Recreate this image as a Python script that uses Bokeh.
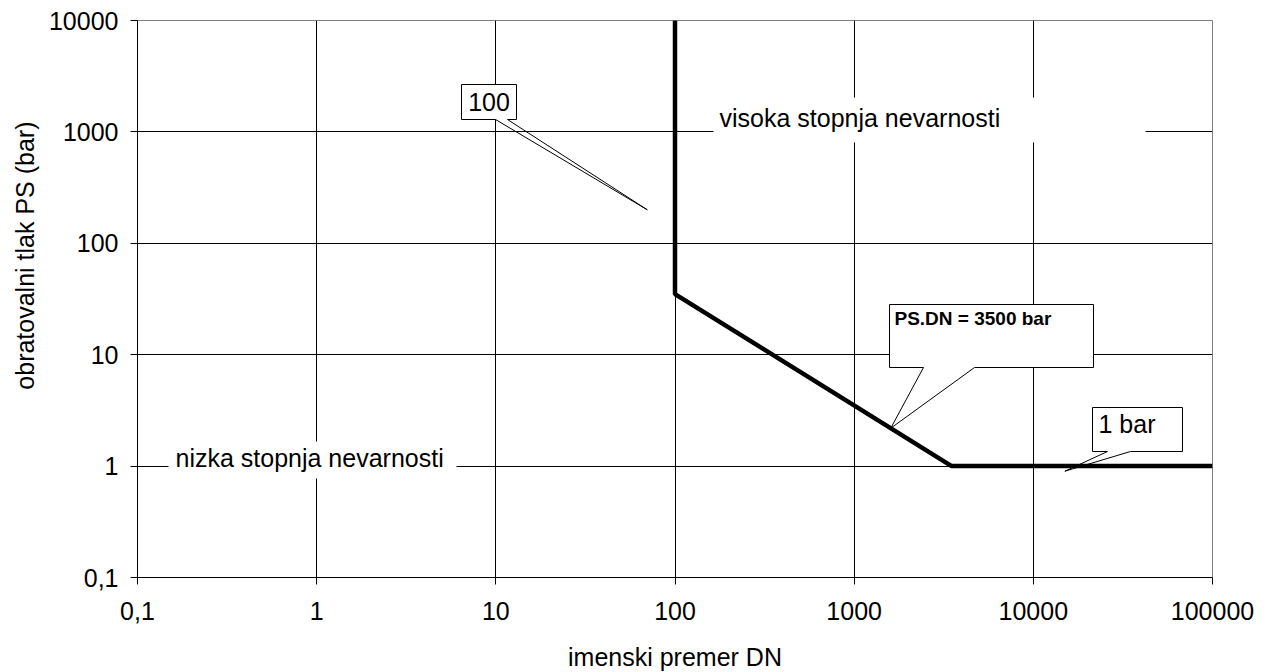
from bokeh.plotting import figure
from bokeh.models import FixedTicker, Title
from bokeh.embed import file_html
from bokeh.resources import INLINE
from bokeh.core.properties import value

# ---------------- data ----------------
dn = [100, 100, 3500, 100000]          # imenski premer DN
ps = [10000, 35, 1, 1]                 # obratovalni tlak PS (bar)

x_ticks = [0.1, 1, 10, 100, 1000, 10000, 100000]
x_tick_labels = ["0,1", "1", "10", "100", "1000", "10000", "100000"]
y_ticks = [0.1, 1, 10, 100, 1000, 10000]
y_tick_labels = ["0,1", "1", "10", "100", "1000", "10000"]

x_title = "imenski premer DN"
y_title = "obratovalni tlak PS (bar)"

zone_texts = ["visoka stopnja nevarnosti", "nizka stopnja nevarnosti"]

callout_texts = ["100", "PS.DN = 3500 bar", "1 bar"]
callout_tip_x = [70, 1600, 15000]
callout_tip_y = [200, 3500 / 1600, 0.9]

# ---------------- layout ----------------
FW, FH = 1075, 557
XLOG = (-1.0, 5.0)
YLOG = (-1.0, 4.0)
FONT = value("Liberation Sans")


def fx(px):
    return 10 ** (XLOG[0] + px / FW * (XLOG[1] - XLOG[0]))


def fy(py):
    return 10 ** (YLOG[1] - py / FH * (YLOG[1] - YLOG[0]))


p = figure(
    x_axis_type="log", y_axis_type="log",
    x_range=(10 ** XLOG[0], 10 ** XLOG[1]),
    y_range=(10 ** YLOG[0], 10 ** YLOG[1]),
    frame_width=FW, frame_height=FH,
    min_border_left=137, min_border_top=20, min_border_right=52, min_border_bottom=88,
    output_backend="svg", toolbar_location=None,
    background_fill_color="white", border_fill_color="white",
)
p.outline_line_color = "#808080"

for ax, ticks, labels in ((p.xaxis[0], x_ticks, x_tick_labels), (p.yaxis[0], y_ticks, y_tick_labels)):
    ax.ticker = FixedTicker(ticks=ticks)
    ax.major_label_overrides = {float(t): l for t, l in zip(ticks, labels)}
    ax.minor_tick_line_color = None
    ax.major_tick_out = 7
    ax.major_tick_in = 0
    ax.axis_line_color = "black"
    ax.major_tick_line_color = "black"
    ax.major_label_text_font = "Liberation Sans"
    ax.major_label_text_font_size = "25px"
    ax.major_label_text_color = "black"
    ax.axis_label_text_font = "Liberation Sans"
    ax.axis_label_text_font_size = "25px"
    ax.axis_label_text_font_style = "normal"
    ax.axis_label_text_color = "black"

p.xaxis.axis_label = x_title
p.xaxis.major_label_standoff = 17
p.xaxis.axis_label_standoff = 20
p.yaxis.major_label_standoff = 12

# y-axis title, placed above the frame centre like the original
p.add_layout(Title(text=y_title, align="right", offset=101, standoff=14,
                   text_font="Liberation Sans", text_font_size="25px",
                   text_font_style="normal", text_color="black"), "left")

p.xgrid.ticker = FixedTicker(ticks=x_ticks)
p.ygrid.ticker = FixedTicker(ticks=y_ticks)
p.grid.grid_line_color = "black"
p.grid.grid_line_width = 1

# baseline correction for glyph text (px per px of font size)
BL = 0.36

# zone labels (white boxes over grid)
zone_boxes = [(576, 77, 1008, 122), (31, 421, 319, 458)]
zone_text_pos = [(582, 106), (38, 446)]
p.quad(left=[fx(b[0]) for b in zone_boxes], right=[fx(b[2]) for b in zone_boxes],
       top=[fy(b[1]) for b in zone_boxes], bottom=[fy(b[3]) for b in zone_boxes],
       fill_color="white", line_color=None)
p.text(x=[fx(t[0]) for t in zone_text_pos], y=[fy(t[1] - BL * 25) for t in zone_text_pos], text=zone_texts,
       text_font=FONT, text_font_size="25px", text_align="left", text_baseline="alphabetic",
       text_color="black")

# main boundary line
p.line(dn, ps, line_color="black", line_width=4.5)

# callouts
callout_boxes = [(324, 64, 379, 99), (752, 284, 956, 347), (955, 387, 1045, 431)]
callout_bases = [(358, 370), (786, 837), (970, 993)]
p.quad(left=[fx(b[0]) for b in callout_boxes], right=[fx(b[2]) for b in callout_boxes],
       top=[fy(b[1]) for b in callout_boxes], bottom=[fy(b[3]) for b in callout_boxes],
       fill_color="white", line_color=None)
xs, ys = [], []
for (l, t, r, b), (b0, b1), tx, ty in zip(callout_boxes, callout_bases, callout_tip_x, callout_tip_y):
    xs.append([fx(l), fx(r), fx(r), fx(b1), tx, fx(b0), fx(l), fx(l)])
    ys.append([fy(t), fy(t), fy(b), fy(b), ty, fy(b), fy(b), fy(t)])
p.multi_line(xs, ys, line_color="black", line_width=1)

p.text(x=[fx(351.5)], y=[fy(90.7 - BL * 25)], text=[callout_texts[0]], text_font=FONT, text_font_size="25px",
       text_align="center", text_baseline="alphabetic", text_color="black")
p.text(x=[fx(757)], y=[fy(304.7 - BL * 19)], text=[callout_texts[1]], text_font=FONT, text_font_size="19px",
       text_font_style="bold", text_align="left", text_baseline="alphabetic", text_color="black")
p.text(x=[fx(961)], y=[fy(412 - BL * 25)], text=[callout_texts[2]], text_font=FONT, text_font_size="25px",
       text_align="left", text_baseline="alphabetic", text_color="black")

open("out.html", "w").write(file_html(p, INLINE))
